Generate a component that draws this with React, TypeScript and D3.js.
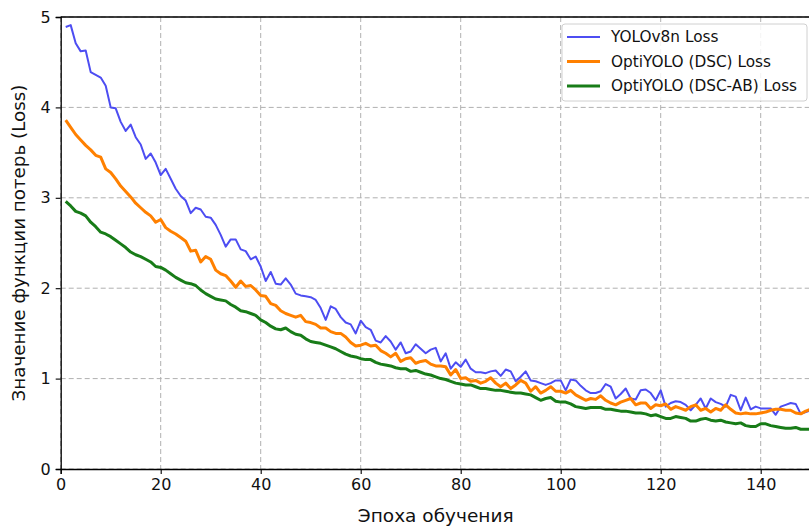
import { useEffect, useRef } from 'react';
import * as d3 from 'd3';

// loss per epoch
const yoloLoss = [
  4.89, 4.91, 4.71, 4.62, 4.63, 4.39, 4.36, 4.33, 4.24, 4.0,
  3.99, 3.84, 3.74, 3.81, 3.67, 3.59, 3.43, 3.49, 3.39, 3.25,
  3.32, 3.21, 3.1, 3.02, 2.97, 2.83, 2.89, 2.87, 2.79, 2.78,
  2.7, 2.59, 2.46, 2.54, 2.54, 2.43, 2.41, 2.32, 2.35, 2.24,
  2.08, 2.18, 2.05, 2.04, 2.11, 2.04, 1.94, 1.92, 1.91, 1.9,
  1.87, 1.78, 1.65, 1.8, 1.77, 1.68, 1.62, 1.6, 1.5, 1.64,
  1.57, 1.54, 1.42, 1.4, 1.47, 1.41, 1.32, 1.4, 1.28, 1.3,
  1.38, 1.33, 1.28, 1.32, 1.34, 1.19, 1.28, 1.11, 1.18, 1.13,
  1.21, 1.11, 1.07, 1.07, 1.06, 1.08, 1.09, 1.03, 1.1, 1.08,
  0.97, 1.02, 1.08, 0.98, 0.97, 0.95, 0.93, 0.95, 0.98, 0.98,
  0.87, 0.99, 0.98, 0.92, 0.87, 0.84, 0.84, 0.86, 0.94, 0.91,
  0.78, 0.83, 0.89, 0.78, 0.77, 0.87, 0.88, 0.84, 0.76, 0.87,
  0.69, 0.73, 0.75, 0.74, 0.71, 0.65, 0.71, 0.78, 0.67, 0.78,
  0.74, 0.72, 0.69, 0.82, 0.8, 0.65, 0.79, 0.66, 0.69, 0.67,
  0.67, 0.67, 0.6, 0.69, 0.71, 0.73, 0.72, 0.61, 0.63, 0.65,
];

const dscLoss = [
  3.86, 3.78, 3.7, 3.64, 3.58, 3.53, 3.47, 3.45, 3.32, 3.28,
  3.21, 3.13, 3.07, 3.01, 2.94, 2.89, 2.84, 2.8, 2.73, 2.76,
  2.67, 2.63, 2.6, 2.56, 2.52, 2.41, 2.42, 2.29, 2.35, 2.32,
  2.2, 2.16, 2.14, 2.08, 2.01, 2.08, 2.02, 2.03, 1.98, 1.92,
  1.91, 1.83, 1.81, 1.75, 1.72, 1.7, 1.68, 1.7, 1.63, 1.62,
  1.6, 1.56, 1.56, 1.52, 1.5, 1.5, 1.46, 1.4, 1.36, 1.37,
  1.39, 1.36, 1.37, 1.31, 1.28, 1.24, 1.28, 1.19, 1.22, 1.23,
  1.17, 1.19, 1.2, 1.16, 1.14, 1.14, 1.13, 1.04, 1.1, 1.0,
  1.01, 0.97, 0.98, 0.95, 0.97, 1.01, 0.95, 0.91, 0.95, 0.89,
  0.93, 0.98, 0.95, 0.86, 0.91, 0.84, 0.87, 0.91, 0.86, 0.86,
  0.84, 0.87, 0.82, 0.79, 0.76, 0.78, 0.77, 0.81, 0.76, 0.73,
  0.71, 0.74, 0.76, 0.78, 0.71, 0.73, 0.73, 0.67, 0.71, 0.7,
  0.72, 0.66, 0.69, 0.67, 0.65, 0.69, 0.71, 0.65, 0.67, 0.63,
  0.67, 0.65, 0.71, 0.66, 0.62, 0.61, 0.62, 0.61, 0.61, 0.62,
  0.63, 0.65, 0.66, 0.66, 0.65, 0.65, 0.62, 0.61, 0.64, 0.66,
];

const dscAbLoss = [
  2.96, 2.91, 2.85, 2.83, 2.8, 2.73, 2.68, 2.62, 2.6, 2.57,
  2.53, 2.49, 2.45, 2.4, 2.37, 2.35, 2.32, 2.29, 2.24, 2.23,
  2.2, 2.16, 2.12, 2.09, 2.06, 2.05, 2.03, 1.98, 1.94, 1.91,
  1.88, 1.87, 1.86, 1.82, 1.79, 1.75, 1.74, 1.72, 1.7, 1.65,
  1.62, 1.58, 1.55, 1.54, 1.56, 1.52, 1.49, 1.48, 1.44, 1.41,
  1.4, 1.39, 1.37, 1.35, 1.33, 1.3, 1.27, 1.25, 1.24, 1.22,
  1.21, 1.21, 1.18, 1.16, 1.15, 1.14, 1.12, 1.11, 1.11, 1.08,
  1.09, 1.07, 1.05, 1.04, 1.02, 1.0, 0.99, 0.97, 0.95, 0.94,
  0.93, 0.93, 0.91, 0.89, 0.89, 0.88, 0.87, 0.87, 0.86, 0.85,
  0.84, 0.84, 0.83, 0.82, 0.79, 0.76, 0.78, 0.79, 0.75, 0.74,
  0.74, 0.72, 0.69, 0.68, 0.67, 0.68, 0.68, 0.68, 0.66, 0.66,
  0.65, 0.64, 0.64, 0.63, 0.62, 0.62, 0.61, 0.59, 0.6, 0.58,
  0.56, 0.56, 0.58, 0.57, 0.56, 0.53, 0.53, 0.55, 0.56, 0.54,
  0.53, 0.54, 0.52, 0.51, 0.5, 0.51, 0.48, 0.47, 0.47, 0.5,
  0.5, 0.48, 0.47, 0.46, 0.45, 0.45, 0.46, 0.44, 0.44, 0.44,
];

const epochs = yoloLoss.map((_, i) => i + 1);

const xTicks = [0, 20, 40, 60, 80, 100, 120, 140];
const yTicks = [0, 1, 2, 3, 4, 5];

const series = [
  { name: 'YOLOv8n Loss', values: yoloLoss, color: '#4d4df2', width: 2 },
  { name: 'OptiYOLO (DSC) Loss', values: dscLoss, color: '#ff8000', width: 3 },
  { name: 'OptiYOLO (DSC-AB) Loss', values: dscAbLoss, color: '#187c18', width: 3 },
];

const W = 809;
const H = 526;
const FONT = 'DejaVu Sans, sans-serif';

export default function App() {
  const svgRef = useRef<SVGSVGElement>(null);

  useEffect(() => {
    document.body.style.margin = '0';
    const svg = d3.select(svgRef.current);
    svg.selectAll('*').remove();

    const left = 60.7;
    const right = 810.7;
    const top = 17;
    const bottom = 469;

    const x = d3.scaleLinear().domain([0, 150]).range([left, right]);
    const y = d3.scaleLinear().domain([0, 5]).range([bottom, top]);

    // grid
    const grid = svg.append('g')
      .attr('stroke', '#b0b0b0')
      .attr('stroke-width', 1)
      .attr('stroke-dasharray', '5,3');
    xTicks.forEach(t => {
      grid.append('line')
        .attr('x1', x(t)).attr('x2', x(t))
        .attr('y1', top).attr('y2', bottom);
    });
    yTicks.forEach(t => {
      grid.append('line')
        .attr('x1', left).attr('x2', right)
        .attr('y1', y(t)).attr('y2', y(t));
    });

    // lines
    const line = d3.line<number>()
      .x((_, i) => x(epochs[i]))
      .y(d => y(d));

    series.forEach(s => {
      svg.append('path')
        .attr('d', line(s.values))
        .attr('fill', 'none')
        .attr('stroke', s.color)
        .attr('stroke-width', s.width)
        .attr('stroke-linejoin', 'round');
    });

    // axes
    const xAxis = svg.append('g')
      .attr('transform', `translate(0,${bottom})`)
      .call(d3.axisBottom(x).tickValues(xTicks).tickSize(5).tickPadding(5).tickFormat(d3.format('d')));
    const yAxis = svg.append('g')
      .attr('transform', `translate(${left},0)`)
      .call(d3.axisLeft(y).tickValues(yTicks).tickSize(5).tickPadding(5).tickFormat(d3.format('d')));

    [xAxis, yAxis].forEach(a => {
      a.select('.domain').attr('stroke', '#000').attr('stroke-width', 1.3);
      a.selectAll('.tick line').attr('stroke', '#000').attr('stroke-width', 1.1);
      a.selectAll('.tick text')
        .attr('fill', '#111')
        .style('font-family', FONT)
        .style('font-size', '16px');
    });

    // top spine
    svg.append('line')
      .attr('x1', left).attr('x2', right)
      .attr('y1', top).attr('y2', top)
      .attr('stroke', '#000')
      .attr('stroke-width', 1.3);

    // axis labels
    svg.append('text')
      .attr('x', (left + right) / 2)
      .attr('y', 522)
      .attr('text-anchor', 'middle')
      .style('font-family', FONT)
      .style('font-size', '18.5px')
      .attr('fill', '#111')
      .text('Эпоха обучения');

    svg.append('text')
      .attr('transform', `translate(25,${(top + bottom) / 2}) rotate(-90)`)
      .attr('text-anchor', 'middle')
      .style('font-family', FONT)
      .style('font-size', '18.3px')
      .attr('fill', '#111')
      .text('Значение функции потерь (Loss)');

    // legend
    const lg = svg.append('g').attr('transform', 'translate(562,24)');
    lg.append('rect')
      .attr('width', 245).attr('height', 77)
      .attr('rx', 3)
      .attr('fill', 'rgba(255,255,255,0.85)')
      .attr('stroke', '#d0d0d0');
    series.forEach((s, i) => {
      const row = lg.append('g').attr('transform', `translate(0,${13 + i * 24.5})`);
      row.append('line')
        .attr('x1', 5).attr('x2', 38)
        .attr('stroke', s.color)
        .attr('stroke-width', s.width);
      row.append('text')
        .attr('x', 49)
        .attr('dy', '0.35em')
        .style('font-family', FONT)
        .style('font-size', '15.3px')
        .attr('fill', '#111')
        .text(s.name);
    });
  }, []);

  return <svg ref={svgRef} width={W} height={H} style={{ display: 'block', background: '#fff' }} />;
}
